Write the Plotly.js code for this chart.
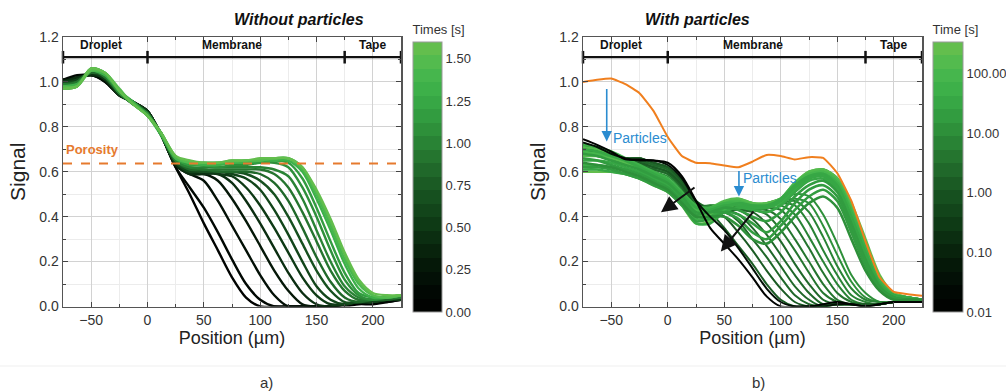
<!DOCTYPE html>
<html><head><meta charset="utf-8">
<script src="https://cdn.plot.ly/plotly-3.0.1.min.js"></script>
<style>html,body{margin:0;padding:0;background:#fff}</style>
</head><body><div id="chart" style="width:1006px;height:392px"></div>
<script>
// ---------- data ----------
const positions = [-75,-62.5,-50,-37.5,-25,-12.5,0,12.5,25,37.5,50,62.5,75,87.5,100,112.5,125,137.5,150,162.5,175,187.5,200,212.5,225];

// (a) Without particles: times [s]
const timesA = [0.00,0.10,0.20,0.30,0.40,0.50,0.60,0.70,0.80,0.90,1.00,1.10,1.20,1.30,1.40,1.50,1.58];
const signalA00 = [1.01,1.02,1.03,1.00,0.94,0.91,0.87,0.76,0.62,0.50,0.37,0.25,0.13,0.04,0.00,0.00,0.00,0.00,0.00,0.00,0.00,0.01,0.01,0.02,0.03];
const signalA01 = [1.01,1.03,1.03,1.01,0.95,0.91,0.87,0.76,0.62,0.53,0.44,0.33,0.21,0.10,0.03,0.00,0.00,0.00,0.00,0.00,0.01,0.02,0.02,0.02,0.03];
const signalA02 = [1.00,1.02,1.03,1.00,0.94,0.91,0.87,0.76,0.63,0.59,0.56,0.47,0.36,0.25,0.14,0.05,0.00,0.00,0.00,0.00,0.01,0.02,0.02,0.03,0.03];
const signalA03 = [1.01,1.01,1.04,1.01,0.95,0.91,0.87,0.76,0.63,0.59,0.59,0.56,0.48,0.38,0.27,0.16,0.07,0.01,0.00,0.00,0.01,0.02,0.02,0.03,0.03];
const signalA04 = [1.00,1.02,1.03,1.02,0.95,0.90,0.86,0.76,0.63,0.59,0.59,0.59,0.55,0.47,0.37,0.26,0.15,0.06,0.01,0.00,0.01,0.02,0.02,0.03,0.03];
const signalA05 = [1.00,1.01,1.04,1.01,0.94,0.91,0.87,0.76,0.64,0.60,0.60,0.59,0.58,0.53,0.45,0.35,0.24,0.13,0.05,0.01,0.01,0.02,0.02,0.03,0.03];
const signalA06 = [0.99,1.01,1.04,1.02,0.95,0.90,0.86,0.76,0.64,0.60,0.60,0.60,0.59,0.57,0.52,0.43,0.32,0.20,0.09,0.03,0.01,0.02,0.02,0.03,0.04];
const signalA07 = [1.00,1.00,1.05,1.02,0.95,0.91,0.86,0.76,0.64,0.61,0.60,0.60,0.60,0.59,0.56,0.50,0.40,0.28,0.16,0.07,0.02,0.02,0.03,0.03,0.04];
const signalA08 = [0.99,1.00,1.04,1.03,0.96,0.90,0.86,0.77,0.65,0.61,0.61,0.60,0.60,0.60,0.59,0.55,0.47,0.35,0.22,0.11,0.04,0.02,0.03,0.03,0.04];
const signalA09 = [0.98,1.00,1.05,1.02,0.95,0.91,0.86,0.76,0.65,0.62,0.61,0.61,0.61,0.61,0.61,0.59,0.53,0.42,0.29,0.16,0.07,0.03,0.03,0.04,0.04];
const signalA10 = [0.99,0.99,1.05,1.03,0.96,0.90,0.85,0.77,0.65,0.62,0.62,0.62,0.62,0.62,0.62,0.61,0.58,0.48,0.34,0.20,0.09,0.04,0.03,0.04,0.04];
const signalA11 = [0.98,0.99,1.05,1.03,0.95,0.90,0.86,0.76,0.66,0.63,0.63,0.62,0.63,0.63,0.64,0.64,0.62,0.53,0.40,0.25,0.12,0.05,0.03,0.04,0.05];
const signalA12 = [0.97,0.98,1.06,1.04,0.96,0.90,0.85,0.77,0.66,0.63,0.63,0.63,0.64,0.64,0.64,0.65,0.64,0.57,0.44,0.29,0.15,0.06,0.04,0.04,0.05];
const signalA13 = [0.98,0.99,1.05,1.03,0.96,0.91,0.85,0.76,0.66,0.64,0.63,0.63,0.64,0.64,0.65,0.65,0.65,0.60,0.48,0.34,0.19,0.08,0.04,0.04,0.05];
const signalA14 = [0.97,0.98,1.06,1.04,0.96,0.90,0.85,0.77,0.66,0.64,0.64,0.64,0.64,0.65,0.65,0.66,0.66,0.61,0.50,0.36,0.21,0.10,0.05,0.04,0.05];
const signalA15 = [0.98,0.98,1.05,1.04,0.97,0.90,0.85,0.77,0.67,0.64,0.64,0.64,0.65,0.65,0.65,0.66,0.66,0.62,0.51,0.38,0.23,0.11,0.05,0.04,0.05];
const signalA16 = [0.97,0.98,1.06,1.04,0.96,0.90,0.85,0.77,0.67,0.65,0.64,0.64,0.65,0.65,0.66,0.66,0.66,0.62,0.52,0.39,0.24,0.12,0.06,0.05,0.05];
const signalsA = [signalA00,signalA01,signalA02,signalA03,signalA04,signalA05,signalA06,signalA07,signalA08,signalA09,signalA10,signalA11,signalA12,signalA13,signalA14,signalA15,signalA16];
const porosity = 0.637;

// (b) With particles: reference (no particles) and times [s] (log colour scale)
const reference = [1.00,1.01,1.015,0.99,0.95,0.87,0.755,0.67,0.64,0.638,0.628,0.62,0.645,0.675,0.67,0.655,0.665,0.662,0.594,0.47,0.29,0.13,0.065,0.055,0.048];
// front curves (early)
const timesFront = [12,10,8.5,7,6,5,4.2,3.5,3.0,2.6,2.2,1.9,1.6,1.4];
const signalB15 = [0.68,0.67,0.65,0.63,0.62,0.60,0.58,0.52,0.43,0.45,0.45,0.45,0.44,0.46,0.48,0.50,0.49,0.41,0.28,0.14,0.06,0.02,0.02,0.03,0.03];
const signalB16 = [0.70,0.69,0.67,0.65,0.64,0.62,0.60,0.54,0.45,0.45,0.45,0.44,0.44,0.45,0.47,0.48,0.46,0.36,0.23,0.11,0.04,0.02,0.02,0.03,0.03];
const signalB17 = [0.69,0.68,0.66,0.64,0.63,0.61,0.59,0.53,0.44,0.45,0.44,0.44,0.44,0.45,0.46,0.47,0.42,0.31,0.18,0.08,0.03,0.02,0.02,0.03,0.03];
const signalB18 = [0.71,0.70,0.68,0.66,0.65,0.63,0.61,0.55,0.46,0.44,0.44,0.44,0.44,0.45,0.46,0.45,0.37,0.25,0.14,0.05,0.02,0.01,0.02,0.02,0.03];
const signalB19 = [0.70,0.69,0.67,0.65,0.64,0.62,0.60,0.54,0.45,0.44,0.44,0.44,0.44,0.45,0.45,0.41,0.31,0.20,0.10,0.03,0.01,0.01,0.02,0.02,0.03];
const signalB20 = [0.72,0.70,0.68,0.66,0.66,0.64,0.62,0.56,0.47,0.44,0.44,0.43,0.43,0.44,0.43,0.36,0.26,0.15,0.06,0.02,0.01,0.01,0.02,0.02,0.02];
const signalB21 = [0.69,0.68,0.66,0.64,0.63,0.61,0.59,0.53,0.44,0.44,0.43,0.43,0.43,0.43,0.39,0.30,0.20,0.10,0.03,0.01,0.01,0.01,0.02,0.02,0.02];
const signalB22 = [0.71,0.70,0.68,0.66,0.65,0.63,0.61,0.55,0.46,0.44,0.43,0.43,0.43,0.41,0.34,0.25,0.15,0.06,0.02,0.01,0.01,0.01,0.02,0.02,0.02];
const signalB23 = [0.70,0.69,0.67,0.65,0.64,0.62,0.60,0.54,0.45,0.43,0.43,0.43,0.42,0.37,0.29,0.19,0.10,0.03,0.01,0.01,0.01,0.01,0.02,0.02,0.02];
const signalB24 = [0.72,0.70,0.68,0.66,0.66,0.64,0.62,0.56,0.47,0.43,0.43,0.43,0.39,0.32,0.23,0.14,0.06,0.01,0.01,0.01,0.01,0.01,0.02,0.02,0.02];
const signalB25 = [0.69,0.68,0.66,0.64,0.63,0.61,0.59,0.53,0.44,0.43,0.43,0.41,0.35,0.27,0.18,0.09,0.03,0.00,0.01,0.01,0.01,0.01,0.02,0.02,0.02];
const signalB26 = [0.71,0.70,0.68,0.66,0.65,0.63,0.61,0.55,0.46,0.43,0.42,0.38,0.30,0.22,0.13,0.05,0.01,0.00,0.01,0.01,0.01,0.01,0.02,0.02,0.02];
const signalB27 = [0.70,0.69,0.67,0.65,0.64,0.62,0.60,0.54,0.45,0.43,0.40,0.33,0.25,0.16,0.08,0.02,0.00,0.00,0.01,0.01,0.01,0.01,0.02,0.02,0.02];
const signalB28 = [0.72,0.70,0.68,0.66,0.66,0.64,0.62,0.56,0.47,0.42,0.35,0.27,0.19,0.10,0.03,0.00,0.00,0.00,0.01,0.01,0.00,0.01,0.02,0.02,0.02];
const signalsFront = [signalB15,signalB16,signalB17,signalB18,signalB19,signalB20,signalB21,signalB22,signalB23,signalB24,signalB25,signalB26,signalB27,signalB28];
// band curves (late)
const timesBand = [300,220,160,120,90,70,55,42,34,28,23,19,16,14];
const signalB01 = [0.68,0.68,0.67,0.64,0.62,0.59,0.56,0.50,0.43,0.43,0.46,0.48,0.46,0.46,0.48,0.55,0.60,0.61,0.57,0.46,0.30,0.14,0.06,0.04,0.03];
const signalB02 = [0.60,0.60,0.60,0.59,0.57,0.54,0.51,0.45,0.37,0.38,0.43,0.46,0.45,0.44,0.47,0.53,0.58,0.60,0.56,0.44,0.29,0.13,0.06,0.04,0.03];
const signalB03 = [0.71,0.70,0.68,0.65,0.62,0.59,0.56,0.50,0.44,0.44,0.47,0.48,0.46,0.46,0.48,0.55,0.60,0.61,0.57,0.45,0.29,0.13,0.06,0.04,0.03];
const signalB04 = [0.67,0.67,0.66,0.64,0.61,0.58,0.55,0.49,0.41,0.41,0.45,0.47,0.46,0.45,0.47,0.54,0.59,0.61,0.57,0.44,0.28,0.12,0.05,0.04,0.03];
const signalB05 = [0.69,0.68,0.67,0.65,0.62,0.59,0.56,0.50,0.43,0.43,0.46,0.47,0.45,0.45,0.48,0.55,0.59,0.60,0.56,0.43,0.27,0.12,0.05,0.04,0.03];
const signalB06 = [0.63,0.63,0.62,0.61,0.59,0.57,0.54,0.48,0.39,0.39,0.43,0.46,0.44,0.44,0.46,0.52,0.57,0.59,0.55,0.42,0.26,0.11,0.05,0.04,0.03];
const signalB07 = [0.72,0.71,0.69,0.66,0.63,0.60,0.57,0.51,0.45,0.44,0.46,0.46,0.45,0.45,0.47,0.53,0.58,0.59,0.55,0.41,0.25,0.11,0.05,0.04,0.03];
const signalB08 = [0.65,0.65,0.64,0.62,0.60,0.57,0.54,0.48,0.40,0.40,0.44,0.46,0.45,0.45,0.48,0.54,0.58,0.59,0.54,0.40,0.24,0.10,0.05,0.04,0.03];
const signalB09 = [0.70,0.69,0.67,0.65,0.62,0.59,0.56,0.50,0.44,0.43,0.45,0.45,0.44,0.44,0.47,0.53,0.57,0.58,0.53,0.39,0.23,0.10,0.05,0.04,0.03];
const signalB10 = [0.61,0.61,0.60,0.59,0.57,0.55,0.52,0.46,0.37,0.37,0.42,0.44,0.43,0.42,0.45,0.51,0.56,0.57,0.52,0.38,0.22,0.09,0.04,0.03,0.03];
const signalB11 = [0.68,0.67,0.65,0.63,0.61,0.58,0.55,0.49,0.42,0.42,0.44,0.43,0.40,0.38,0.42,0.49,0.54,0.56,0.51,0.37,0.21,0.09,0.04,0.03,0.03];
const signalB12 = [0.62,0.62,0.61,0.59,0.57,0.54,0.51,0.45,0.38,0.39,0.42,0.41,0.37,0.33,0.38,0.46,0.52,0.54,0.49,0.35,0.20,0.08,0.04,0.03,0.03];
const signalB13 = [0.66,0.65,0.63,0.61,0.59,0.56,0.53,0.47,0.41,0.42,0.42,0.39,0.33,0.30,0.36,0.43,0.49,0.52,0.47,0.33,0.18,0.08,0.04,0.03,0.03];
const signalB14 = [0.64,0.63,0.62,0.60,0.58,0.55,0.52,0.46,0.40,0.40,0.40,0.36,0.30,0.28,0.33,0.40,0.46,0.49,0.44,0.30,0.16,0.07,0.03,0.03,0.03];
const signalsBand = [signalB01,signalB02,signalB03,signalB04,signalB05,signalB06,signalB07,signalB08,signalB09,signalB10,signalB11,signalB12,signalB13,signalB14];
// earliest curves (drawn on top)
const timesEarly = [0.03,0.01];
const signalB29 = [0.73,0.71,0.68,0.66,0.65,0.65,0.63,0.57,0.47,0.40,0.34,0.26,0.17,0.08,0.02,0.00,0.00,0.00,0.01,0.01,0.00,0.01,0.02,0.02,0.02];
const signalB30 = [0.745,0.72,0.69,0.655,0.655,0.65,0.64,0.58,0.47,0.35,0.28,0.21,0.13,0.045,0.00,0.00,0.00,0.01,0.02,0.01,0.00,0.01,0.02,0.02,0.02];
const signalsEarly = [signalB29,signalB30];

const regionNames = ['Droplet','Membrane','Tape'];
const regionCenters = [-41, 75, 200];
const regionBounds = [-75, 0, 175, 225];
const regionLevel = 1.11;
const labelLevel = 1.165;
const tickValsA = [0,0.25,0.5,0.75,1.0,1.25,1.5];
const tickValsB = [0.01,0.1,1,10,100];
const tickTextB = ['0.01','0.10','1.00','10.00','100.00'];
const tMaxA = 1.6, tMinB = 0.01, tMaxB = 340;

// ---------- styling helpers ----------
const anchors = [[0,'#000000'],[0.1,'#020b04'],[0.2,'#061d0a'],[0.3,'#0c3413'],[0.4,'#144a1c'],[0.5,'#1d6127'],[0.6,'#277c32'],[0.7,'#30963d'],[0.8,'#39ad47'],[0.9,'#4ab94f'],[1,'#6cbf4c']];
function hex2rgb(h){return [parseInt(h.slice(1,3),16),parseInt(h.slice(3,5),16),parseInt(h.slice(5,7),16)];}
function colorAt(f){
  f=Math.max(0,Math.min(1,f));
  const nb=20; const k=Math.min(nb-1,Math.floor(f*nb)); const g=(k+0.5)/nb;
  for(let i=0;i<anchors.length-1;i++){
    const [a,ca]=anchors[i],[b,cb]=anchors[i+1];
    if(g>=a&&g<=b){const u=(g-a)/(b-a);const A=hex2rgb(ca),B=hex2rgb(cb);
      return 'rgb('+A.map((v,j)=>Math.round(v+(B[j]-v)*u)).join(',')+')';}
  }
  return anchors[anchors.length-1][1];
}
const stepScale=[];
for(let k=0;k<20;k++){const c=colorAt((k+0.5)/20);stepScale.push([k/20,c]);stepScale.push([(k+1)/20,c]);}

const FONT='Liberation Sans, Arial, sans-serif';
const traces=[];
signalsA.forEach((s,i)=>{
  traces.push({x:positions,y:s,xaxis:'x',yaxis:'y',mode:'lines',showlegend:false,hoverinfo:'skip',
    line:{color:colorAt(timesA[i]/tMaxA),width:2.4,shape:'spline',smoothing:0.8}});
});
traces.push({x:[regionBounds[0],regionBounds[3]],y:[porosity,porosity],xaxis:'x',yaxis:'y',mode:'lines',showlegend:false,hoverinfo:'skip',line:{color:'#e67a2e',width:2,dash:'dash'}});
const lB=(t)=>(Math.log10(t)-Math.log10(tMinB))/(Math.log10(tMaxB)-Math.log10(tMinB));
function addB(sigs,times,w){
  sigs.forEach((s,i)=>traces.push({x:positions,y:s,xaxis:'x2',yaxis:'y2',mode:'lines',showlegend:false,hoverinfo:'skip',
    line:{color:colorAt(lB(times[i])),width:w,shape:'spline',smoothing:0.8}}));
}
addB(signalsFront,timesFront,2.0);
addB(signalsBand,timesBand,2.6);
addB(signalsEarly,timesEarly,2.0);
traces.push({x:positions,y:reference,xaxis:'x2',yaxis:'y2',mode:'lines',showlegend:false,hoverinfo:'skip',line:{color:'#f07f1e',width:2,shape:'spline',smoothing:0.4}});
['x','x2'].forEach((xa,j)=>{
  traces.push({x:regionBounds,y:regionBounds.map(()=>regionLevel),xaxis:xa,yaxis:j?'y2':'y',mode:'lines+markers',showlegend:false,hoverinfo:'skip',
    line:{color:'#111',width:2.2},marker:{symbol:'line-ns',size:9,line:{width:2.5,color:'#111'}},cliponaxis:false});
});
// colour bars
const cbTop=1-22/392, cbLen=290/392;
traces.push({x:positions,y:signalA00,xaxis:'x',yaxis:'y',mode:'markers',showlegend:false,hoverinfo:'skip',
  marker:{opacity:0,size:1,color:positions.map(()=>0),cmin:0,cmax:tMaxA,colorscale:stepScale,showscale:true,
  colorbar:{x:0.4105,xanchor:'left',y:cbTop,yanchor:'top',len:cbLen,thickness:29,xpad:0,ypad:0,
    outlinecolor:'#999',outlinewidth:1,tickvals:tickValsA,tickformat:'.2f',ticks:'',tickfont:{size:13,color:'#333',family:FONT},
    title:{text:'Times [s]',side:'top',font:{size:13,color:'#333',family:FONT}}}}});
traces.push({x:positions,y:signalB30,xaxis:'x2',yaxis:'y2',mode:'markers',showlegend:false,hoverinfo:'skip',
  marker:{opacity:0,size:1,color:positions.map(()=>0),cmin:Math.log10(tMinB),cmax:Math.log10(tMaxB),colorscale:stepScale,showscale:true,
  colorbar:{x:933/1006,xanchor:'left',y:cbTop,yanchor:'top',len:cbLen,thickness:30,xpad:0,ypad:0,
    outlinecolor:'#999',outlinewidth:1,tickvals:tickValsB.map(v=>Math.log10(v)),ticktext:tickTextB,ticks:'',tickfont:{size:13,color:'#333',family:FONT},
    title:{text:'Time [s]',side:'top',font:{size:13,color:'#333',family:FONT}}}}});

function xax(dom){return {domain:dom,range:[-75,225],dtick:50,tick0:0,ticks:'inside',ticklen:5,tickwidth:1,tickcolor:'#444',
  showline:true,mirror:'ticks',linecolor:'#555',linewidth:1.5,zeroline:false,showgrid:true,gridcolor:'#d2d2d2',gridwidth:1,
  minor:{dtick:25,tick0:0,showgrid:true,gridcolor:'#ececec',ticks:'inside',ticklen:3,tickcolor:'#444'},
  tickfont:{size:14,color:'#333',family:FONT},automargin:false,
  title:{text:'Position (µm)',font:{size:18,color:'#222',family:FONT},standoff:2}};}
function yax(dom,anchor){return {domain:dom,anchor:anchor,range:[0,1.2],dtick:0.2,tick0:0,tickformat:'.1f',ticks:'inside',ticklen:5,tickwidth:1,tickcolor:'#444',
  showline:true,mirror:'ticks',linecolor:'#555',linewidth:1.5,zeroline:false,showgrid:true,gridcolor:'#d2d2d2',gridwidth:1,
  minor:{dtick:0.1,tick0:0,showgrid:true,gridcolor:'#ececec',ticks:'inside',ticklen:3,tickcolor:'#444'},
  tickfont:{size:14,color:'#333',family:FONT},automargin:false,
  title:{text:'Signal',font:{size:21,color:'#222',family:FONT},standoff:8}};}

const yDom=[1-306.5/392,1-37/392];
const layout={width:1006,height:392,margin:{l:0,r:0,t:0,b:0,autoexpand:false},paper_bgcolor:'#fff',plot_bgcolor:'#fff',showlegend:false,
  font:{family:FONT,color:'#333'},
  xaxis:Object.assign(xax([63/1006,401/1006]),{anchor:'y'}),
  yaxis:yax(yDom,'x'),
  xaxis2:Object.assign(xax([583/1006,922/1006]),{anchor:'y2'}),
  yaxis2:yax(yDom,'x2'),
  shapes:[{type:'line',xref:'paper',yref:'paper',x0:0,x1:1,y0:1-366/392,y1:1-366/392,line:{color:'#efefef',width:1}}],
  annotations:[]};
const A=layout.annotations;
A.push({xref:'paper',yref:'paper',x:232/1006,y:1-20/392,yanchor:'middle',text:'<b><i>Without particles</i></b>',showarrow:false,font:{size:16,color:'#111',family:FONT}});
A.push({xref:'paper',yref:'paper',x:752/1006,y:1-20/392,yanchor:'middle',text:'<b><i>With particles</i></b>',showarrow:false,font:{size:16,color:'#111',family:FONT}});
A.push({xref:'paper',yref:'paper',x:258/1006,y:1-382/392,yanchor:'middle',text:'a)',showarrow:false,font:{size:15,color:'#333',family:FONT}});
A.push({xref:'paper',yref:'paper',x:767/1006,y:1-382/392,yanchor:'middle',text:'b)',showarrow:false,font:{size:15,color:'#333',family:FONT}});
[['x','y'],['x2','y2']].forEach(([xa,ya])=>{
  regionNames.forEach((n,i)=>A.push({xref:xa,yref:ya,x:regionCenters[i],y:labelLevel,text:'<b>'+n+'</b>',showarrow:false,font:{size:12,color:'#111',family:FONT}}));
});
A.push({xref:'x',yref:'y',x:-74,y:0.697,xanchor:'left',text:'<b>Porosity</b>',showarrow:false,font:{size:13,color:'#e67a2e',family:FONT}});
// particle arrows (b)
const blue='#2b8cd0';
A.push({xref:'x2',yref:'y2',axref:'x2',ayref:'y2',x:-54,y:0.735,ax:-54,ay:0.975,text:'',showarrow:true,arrowhead:2,arrowsize:1.3,arrowwidth:1.6,arrowcolor:blue});
A.push({xref:'x2',yref:'y2',x:-50,y:0.75,xanchor:'left',text:'Particles',showarrow:false,font:{size:14,color:blue,family:FONT}});
A.push({xref:'x2',yref:'y2',axref:'x2',ayref:'y2',x:63,y:0.49,ax:63,ay:0.61,text:'',showarrow:true,arrowhead:2,arrowsize:1.3,arrowwidth:1.6,arrowcolor:blue});
A.push({xref:'x2',yref:'y2',x:65,y:0.57,xanchor:'left',text:'Particles',showarrow:false,font:{size:14,color:blue,family:FONT}});
A.push({xref:'x2',yref:'y2',axref:'x2',ayref:'y2',x:-6,y:0.42,ax:25,ay:0.535,text:'',showarrow:true,arrowhead:2,arrowsize:1.6,arrowwidth:2,arrowcolor:'#111'});
A.push({xref:'x2',yref:'y2',axref:'x2',ayref:'y2',x:47,y:0.245,ax:77,ay:0.43,text:'',showarrow:true,arrowhead:2,arrowsize:1.6,arrowwidth:2,arrowcolor:'#111'});

Plotly.newPlot('chart',traces,layout,{displayModeBar:false,staticPlot:true});
</script></body></html>
